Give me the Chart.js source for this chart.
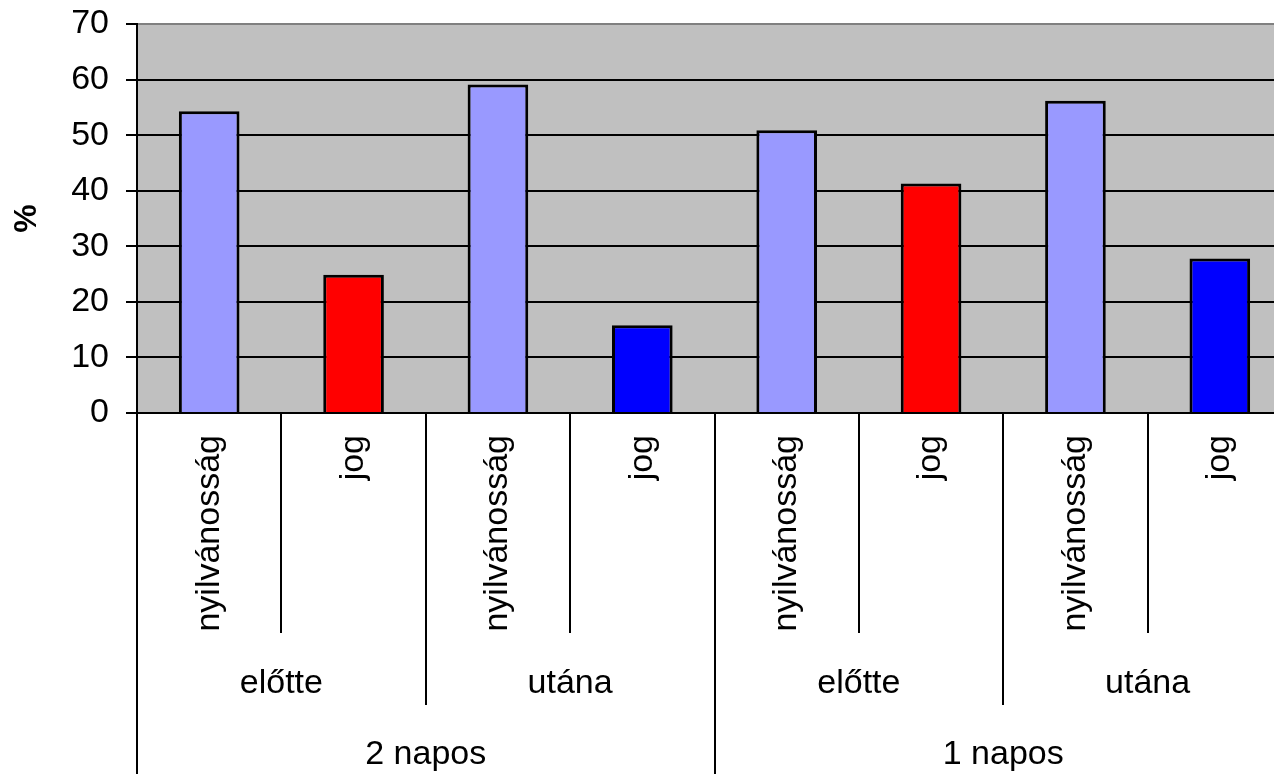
<!DOCTYPE html>
<html>
<head>
<meta charset="utf-8">
<script src="https://cdn.jsdelivr.net/npm/chart.js@4"></script>
<style>
  html, body { margin: 0; padding: 0; background: #fff; overflow: hidden; }
  #wrap { width: 1300px; height: 774px; position: relative; }
</style>
</head>
<body>
<div id="wrap"><canvas id="kepChart"></canvas></div>
<script>
// adatok
var categories = ['nyilvánosság', 'jog', 'nyilvánosság', 'jog', 'nyilvánosság', 'jog', 'nyilvánosság', 'jog'];
var midGroups = ['előtte', 'utána', 'előtte', 'utána'];
var topGroups = ['2 napos', '1 napos'];
var values = [54.3, 24.9, 59.1, 15.8, 50.9, 41.3, 56.2, 27.8];
var barColors = ['#9999FF', '#FF0000', '#9999FF', '#0000FF', '#9999FF', '#FF0000', '#9999FF', '#0000FF'];
var yTicks = [0, 10, 20, 30, 40, 50, 60, 70];

var FONT = "'Liberation Sans', Arial, sans-serif";

var plotBg = {
    id: 'plotBg',
    beforeDraw: function (chart) {
        var a = chart.chartArea, c = chart.ctx;
        c.save();
        c.fillStyle = '#C0C0C0';
        c.fillRect(a.left, a.top, a.right - a.left, a.bottom - a.top);
        c.restore();
    }
};

// tobbszintu kategoriatengely
var groupAxis = {
    id: 'groupAxis',
    afterDraw: function (chart) {
        var c = chart.ctx, x = chart.scales.x, bottom = chart.chartArea.bottom;
        var step = x.getPixelForValue(1) - x.getPixelForValue(0);
        c.save();
        c.strokeStyle = '#000';
        c.lineWidth = 2;
        for (var i = 0; i <= categories.length; i++) {
            var bx = Math.round(x.getPixelForValue(0) - step / 2 + i * step);
            var end = 633;
            if (i % 4 === 0) end = 774;
            else if (i % 2 === 0) end = 705;
            c.beginPath();
            c.moveTo(bx, bottom);
            c.lineTo(bx, end);
            c.stroke();
        }
        c.fillStyle = '#000';
        c.textAlign = 'center';
        c.textBaseline = 'middle';
        c.font = '34px ' + FONT;
        midGroups.forEach(function (lbl, k) {
            var cx = (x.getPixelForValue(2 * k) + x.getPixelForValue(2 * k + 1)) / 2;
            c.fillText(lbl, cx, 684);
        });
        topGroups.forEach(function (lbl, k) {
            var cx = (x.getPixelForValue(4 * k + 1) + x.getPixelForValue(4 * k + 2)) / 2;
            c.fillText(lbl, cx, 755);
        });
        c.restore();
    }
};

var ctx = document.getElementById('kepChart').getContext('2d');
var kepChart = new Chart(ctx, {
    type: 'bar',
    data: {
        labels: categories,
        datasets: [{
            data: values,
            backgroundColor: barColors,
            borderColor: '#000',
            borderWidth: 3,
            barPercentage: 0.42,
            categoryPercentage: 1.0
        }]
    },
    options: {
        responsive: true,
        maintainAspectRatio: false,
        animation: false,
        events: [],
        layout: { padding: { left: 0, top: 24, right: 8, bottom: 0 } },
        plugins: {
            legend: { display: false },
            tooltip: { enabled: false }
        },
        scales: {
            x: {
                grid: { display: false, drawTicks: false },
                border: { display: true, color: '#000', width: 2 },
                ticks: {
                    color: '#000',
                    font: { family: FONT, size: 34 },
                    minRotation: 90,
                    maxRotation: 90,
                    padding: 22,
                    autoSkip: false
                },
                afterFit: function (s) {
                    s.height = 361;
                    s.paddingLeft = 0;
                    s.paddingRight = 0;
                }
            },
            y: {
                min: 0,
                max: 70,
                afterBuildTicks: function (s) {
                    s.ticks = yTicks.map(function (v) { return { value: v }; });
                },
                grid: {
                    color: function (c) { return c.tick && c.tick.value === 70 ? '#808080' : '#000'; },
                    lineWidth: 2,
                    tickLength: 11,
                    tickColor: '#000'
                },
                border: { display: true, color: '#000', width: 2 },
                ticks: {
                    color: '#000',
                    font: { family: FONT, size: 34 },
                    padding: 17
                },
                title: {
                    display: true,
                    text: '%',
                    color: '#000',
                    font: { family: FONT, size: 32, weight: 'bold' },
                    padding: { top: 8, bottom: 0 }
                },
                afterFit: function (s) {
                    s.width = 137;
                    s.paddingTop = 0;
                    s.paddingBottom = 0;
                }
            }
        }
    },
    plugins: [plotBg, groupAxis]
});
</script>
</body>
</html>
